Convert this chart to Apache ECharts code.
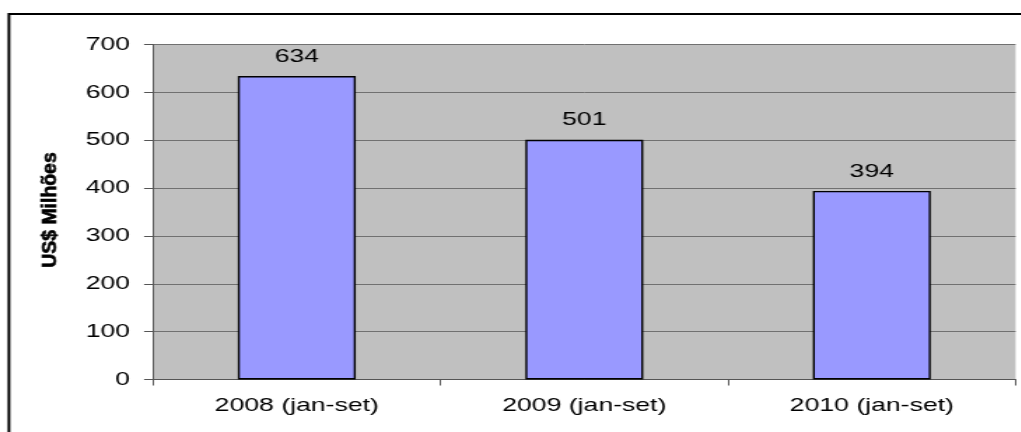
<!DOCTYPE html>
<html>
<head>
<meta charset="utf-8">
<script src="https://cdn.jsdelivr.net/npm/echarts@6/dist/echarts.min.js"></script>
<style>
  html, body { margin: 0; padding: 0; background: #fff; overflow: hidden; }
  #wrap { width: 1021px; height: 432px; overflow: hidden; position: relative; }
  /* the chart is laid out narrow and widened horizontally */
  #chart { width: 729.3px; height: 432px; transform: scaleX(1.4); transform-origin: 0 0; }
</style>
</head>
<body>
<div id="wrap"><div id="chart"></div></div>
<script>
const categories = ['2008 (jan-set)', '2009 (jan-set)', '2010 (jan-set)'];
const values = [634, 501, 394];
const yAxisTitle = 'US$ Milhões';
const yMin = 0, yMax = 700, yStep = 100;

const chart = echarts.init(document.getElementById('chart'), null, { renderer: 'canvas' });
const font = 'Arial, "Liberation Sans", sans-serif';

chart.setOption({
  animation: false,
  backgroundColor: '#ffffff',
  grid: {
    left: 109.3, right: 3.6, top: 44.5, bottom: 52.5,
    show: true, backgroundColor: '#c0c0c0', borderWidth: 0
  },
  xAxis: {
    type: 'category',
    data: categories,
    axisLine: { lineStyle: { color: '#555', width: 1 } },
    axisTick: { show: true, length: 6, lineStyle: { color: '#555' } },
    axisLabel: { color: '#000', fontFamily: font, fontSize: 19, margin: 17 }
  },
  yAxis: {
    type: 'value',
    min: yMin, max: yMax, interval: yStep,
    axisLine: { show: true, lineStyle: { color: '#555', width: 1 } },
    axisTick: { show: true, length: 6.4, lineStyle: { color: '#555' } },
    axisLabel: { color: '#000', fontFamily: font, fontSize: 19, margin: 16.4 },
    splitLine: { show: true, lineStyle: { color: '#707070', width: 1 } }
  },
  series: [{
    type: 'bar',
    data: values,
    barWidth: '41%',
    itemStyle: { color: '#9999ff', borderColor: '#000', borderWidth: 1.4 },
    label: {
      show: true, position: 'top', distance: 10,
      color: '#000', fontFamily: font, fontSize: 19
    }
  }],
  graphic: [
    {
      type: 'rect',
      shape: { x: 6.4, y: 14, width: 760, height: 460 },
      style: { fill: null, stroke: '#000', lineWidth: 2 },
      silent: true, z: 100
    },
    {
      // condensed, heavy axis title reading bottom to top
      type: 'text',
      x: 35.7, y: 210,
      rotation: Math.PI / 2,
      scaleX: 0.97, scaleY: 0.7,
      style: {
        text: yAxisTitle,
        font: 'bold 20px ' + font,
        fill: '#000',
        stroke: '#000',
        lineWidth: 0.7,
        align: 'center',
        verticalAlign: 'middle'
      },
      z: 100
    }
  ]
});
</script>
</body>
</html>
